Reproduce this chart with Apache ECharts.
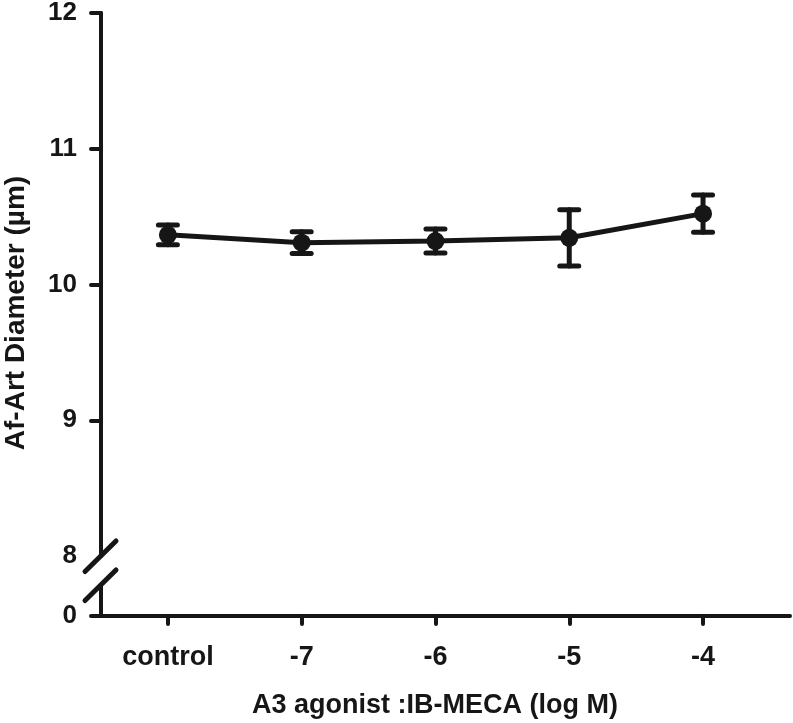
<!DOCTYPE html>
<html>
<head>
<meta charset="utf-8">
<script src="https://cdn.jsdelivr.net/npm/echarts@6/dist/echarts.min.js"></script>
<style>
html,body{margin:0;padding:0;background:#fff;}
#chart{width:793px;height:723px;}
</style>
</head>
<body>
<div id="chart"></div>
<script>
// ---- data ----
const categories = ['control', '-7', '-6', '-5', '-4'];
const meanDiameter = [10.366, 10.308, 10.320, 10.344, 10.522];
const errDiameter = [0.073, 0.080, 0.088, 0.207, 0.137];
const yTicksUpper = [8, 9, 10, 11, 12];
const yTicksLower = [0];
const xTitle = 'A3 agonist :IB-MECA (log M)';
const yTitle = 'Af-Art Diameter (\u00b5m)';

const FONT = '"Liberation Sans", Arial, sans-serif';
const INK = '#161616';

const lineData = meanDiameter.map((v, i) => [i, v]);
const errData = meanDiameter.map((v, i) => [i, v - errDiameter[i], v + errDiameter[i]]);
const catIdx = categories.map((c, i) => i);

const chart = echarts.init(document.getElementById('chart'), null, {renderer: 'canvas'});

const axisLineStyle = {color: INK, width: 4, cap: 'round'};
const tickStyle = {color: INK, width: 4, cap: 'round'};
const yLabelStyle = {color: INK, fontSize: 26, fontWeight: 'bold', fontFamily: FONT};
const xLabelStyle = {color: INK, fontSize: 27, fontWeight: 'bold', fontFamily: FONT};

const option = {
  backgroundColor: '#fff',
  animation: false,
  grid: [
    {left: 101, right: 3, top: 9, bottom: 167},
    {left: 101, right: 3, top: 585, bottom: 107}
  ],
  xAxis: [
    {gridIndex: 0, type: 'value', min: -0.5, max: 4.65, show: false},
    {
      gridIndex: 1, type: 'value', min: -0.5, max: 4.65, position: 'bottom',
      axisLine: {show: true, onZero: false, lineStyle: axisLineStyle},
      axisTick: {show: true, length: 8, customValues: catIdx, lineStyle: tickStyle},
      axisLabel: Object.assign({customValues: catIdx, margin: 28, formatter: v => categories[Math.round(v)]}, xLabelStyle),
      splitLine: {show: false}
    }
  ],
  yAxis: [
    {
      gridIndex: 0, type: 'value', min: 8, max: 12, interval: 1, position: 'left',
      axisLine: {show: true, onZero: false, lineStyle: axisLineStyle},
      axisTick: {show: true, length: 10, customValues: yTicksUpper.slice(1), lineStyle: tickStyle},
      axisLabel: Object.assign({customValues: yTicksUpper, margin: 24}, yLabelStyle),
      splitLine: {show: false}
    },
    {
      gridIndex: 1, type: 'value', min: 0, max: 1, position: 'left',
      axisLine: {show: true, onZero: false, lineStyle: axisLineStyle},
      axisTick: {show: true, length: 10, customValues: yTicksLower, lineStyle: tickStyle},
      axisLabel: Object.assign({customValues: yTicksLower, margin: 24}, yLabelStyle),
      splitLine: {show: false}
    }
  ],
  series: [
    {
      type: 'custom',
      xAxisIndex: 0, yAxisIndex: 0,
      z: 2,
      data: errData,
      renderItem: function (params, api) {
        const x = api.value(0);
        const lo = api.coord([x, api.value(1)]);
        const hi = api.coord([x, api.value(2)]);
        const hw = 9.5;
        const st = {stroke: INK, lineWidth: 5, lineCap: 'round'};
        return {
          type: 'group',
          children: [
            {type: 'line', shape: {x1: lo[0], y1: lo[1], x2: hi[0], y2: hi[1]}, style: st},
            {type: 'line', shape: {x1: lo[0] - hw, y1: lo[1], x2: lo[0] + hw, y2: lo[1]}, style: st},
            {type: 'line', shape: {x1: hi[0] - hw, y1: hi[1], x2: hi[0] + hw, y2: hi[1]}, style: st}
          ]
        };
      }
    },
    {
      type: 'line',
      xAxisIndex: 0, yAxisIndex: 0,
      z: 3,
      data: lineData,
      symbol: 'circle',
      symbolSize: 18,
      lineStyle: {color: INK, width: 5},
      itemStyle: {color: INK},
      silent: true
    }
  ]
};
chart.setOption(option);

// axis-break slashes and titles
const pUpper = chart.convertToPixel({yAxisIndex: 0}, 8);
const pLower = chart.convertToPixel({yAxisIndex: 1}, 1);
const axX = chart.convertToPixel({xAxisIndex: 1}, -0.5);
const slash = (cy) => ({
  type: 'line',
  shape: {x1: axX - 16, y1: cy + 15.5, x2: axX + 15, y2: cy - 15},
  style: {stroke: INK, lineWidth: 5, lineCap: 'round'},
  z: 10
});
chart.setOption({
  graphic: [
    slash(pUpper),
    slash(pLower),
    {
      type: 'text', x: 435, y: 706,
      style: {text: xTitle, fill: INK, font: 'bold 27px ' + FONT, textAlign: 'center', textVerticalAlign: 'middle'}
    },
    {
      type: 'text', x: 16, y: 313, rotation: Math.PI / 2,
      style: {text: yTitle, fill: INK, font: 'bold 28px ' + FONT, textAlign: 'center', textVerticalAlign: 'middle'}
    }
  ]
});
</script>
</body>
</html>
